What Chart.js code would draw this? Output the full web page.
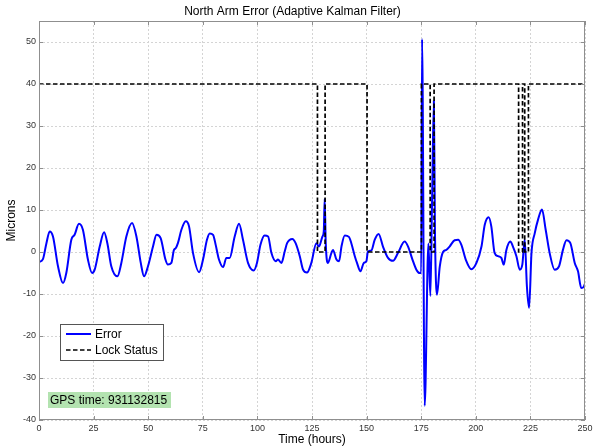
<!DOCTYPE html>
<html>
<head>
<meta charset="utf-8">
<script src="https://cdn.jsdelivr.net/npm/chart.js@4.4.1/dist/chart.umd.min.js"></script>
<style>
  html, body { margin: 0; padding: 0; background: #fff; }
  #wrap { width: 593px; height: 448px; position: relative; }
</style>
</head>
<body>
<div id="wrap"><canvas id="c" width="593" height="448"></canvas></div>
<script>
// ---- data ----
const chartTitle = 'North Arm Error (Adaptive Kalman Filter)';
const xTitle = 'Time (hours)';
const yTitle = 'Microns';
const gpsLabel = 'GPS time: 931132815';

const errHours = [0,1.8,3.4,4.9,6.4,8.7,11,12.5,14.8,16.3,18.3,20.1,22.4,24.3,25.5,27.8,29.8,31.3,33.1,35.9,37.7,40,42.6,44.6,46.6,48.1,49.9,52.2,53.8,55.7,57.9,59,60.6,61.8,62.6,63.6,65.2,67.2,68.7,70.5,73.3,75.1,76.9,78.2,79.7,80.9,82.4,84.3,85.8,87.3,89.6,91.6,93.4,95.7,98.3,99.8,101.4,103.3,104.9,106.4,108.4,109.4,111,112.5,113.6,116,117.5,119.4,120.9,122.7,124.7,127,128.2,129.8,130.4,130.8,131.3,132.3,133.9,134.6,136.2,137.4,138.5,140,141.9,143,144.6,145.6,147.2,148.7,149.9,150.6,152.2,153.7,155.5,157.5,159.8,162.1,164.4,167.4,169,171,172.8,174.3,175.0,175.4,176.6,178.3,179.2,180.0,180.8,181.3,182.2,183.5,185,186.5,188,190.3,191.9,193.4,195.4,198,200.3,202.6,204.1,205.9,207.1,208.6,210.2,211.7,212.8,214,215.8,217,218.6,220.1,221.3,222.4,223.4,224.4,225.5,227,228.5,230.3,232,233.8,236.1,238.1,239.9,241.5,243.3,245.3,246.8,248.3,249.5,250];
const errMicrons = [-2.4,-1.7,2.1,4.9,3.7,-3.4,-7.4,-5,2.9,4.1,6.7,5.3,-1.8,-5,-4.2,1.3,4.7,2.1,-3.4,-5.8,-2.6,3.7,6.9,3.7,-2.6,-5.8,-3.4,1.3,4.1,3.3,-1.8,-3,-2.6,0.5,0.9,2.1,5.3,7.3,6.1,-0.2,-4.8,-1.8,2.9,4.4,4.1,1.7,-1.8,-3.6,-1.4,-1.4,3.7,6.7,2.9,-2.6,-4.4,-2.6,1.7,3.9,3.7,-0.2,-2.2,-1.8,-2.6,0.1,2.1,3.1,2.1,-1,-4.2,-4.9,-2.6,2.1,1.3,3.7,5,12.6,2,-2.6,-0.2,0.5,-1.8,-2.2,1.3,3.9,3.6,2.1,-1,-2.6,-4.6,-2.6,-2.2,0.1,0.4,2.9,4.3,1.3,-1.4,-2.1,-0.2,2.5,1.3,-1.8,-4.2,-5,-5,50.7,-36.6,2,-10.5,13,36,5,-10.2,-3.5,0,0.5,1.3,2.8,2.9,1.7,-1.8,-4.1,-2.6,1.3,6.5,8.3,6.1,-0.2,-1,-1.4,-3,0.5,2.5,1.3,-1,-4.2,-3,3,-8.2,-13.3,-0.2,4.5,7.7,10.1,5.3,-0.2,-4.2,-3.4,0.5,2.8,2.1,-2.6,-4.6,-8.6,-8.2,-7.5];

const lockHours = [0,127.5,127.5,131,131,150.2,150.2,175.1,175.1,179.1,179.1,180.9,180.9,219.6,219.6,221.4,221.4,222.4,222.4,224.1,224.1,250];
const lockLevel = [40,40,0,0,40,40,0,0,40,40,0,0,40,40,0,0,40,40,0,0,40,40];

const xTickValues = [0,25,50,75,100,125,150,175,200,225,250];
const yTickValues = [-40,-30,-20,-10,0,10,20,30,40,50];

const FONT = '"Liberation Sans", Arial, Helvetica, sans-serif';

const toPoints = (xs, ys) => xs.map((x, i) => ({ x: x, y: ys[i] }));

// frame, inward ticks, legend and GPS label
const decorPlugin = {
  id: 'decor',
  afterDatasetsDraw(chart) {
    const { ctx, chartArea: a, scales } = chart;
    ctx.save();
    // box
    ctx.strokeStyle = '#8f8f8f';
    ctx.lineWidth = 1;
    ctx.setLineDash([]);
    ctx.strokeRect(a.left + 0.5, a.top + 0.5, a.right - a.left - 1, a.bottom - a.top - 1);
    // inward ticks on all four sides
    const tl = 4;
    ctx.beginPath();
    scales.x.ticks.forEach(t => {
      const px = Math.round(scales.x.getPixelForValue(t.value)) + 0.5;
      ctx.moveTo(px, a.bottom); ctx.lineTo(px, a.bottom - tl);
      ctx.moveTo(px, a.top); ctx.lineTo(px, a.top + tl);
    });
    scales.y.ticks.forEach(t => {
      const py = Math.round(scales.y.getPixelForValue(t.value)) + 0.5;
      ctx.moveTo(a.left, py); ctx.lineTo(a.left + tl, py);
      ctx.moveTo(a.right, py); ctx.lineTo(a.right - tl, py);
    });
    ctx.stroke();

    // legend box
    const lx = a.left + 21, ly = a.bottom - 96, lw = 103, lh = 36;
    ctx.fillStyle = '#ffffff';
    ctx.fillRect(lx, ly, lw, lh);
    ctx.strokeStyle = '#555555';
    ctx.strokeRect(lx + 0.5, ly + 0.5, lw, lh);
    ctx.font = '12px ' + FONT;
    ctx.textBaseline = 'middle';
    ctx.textAlign = 'left';
    chart.data.datasets.forEach((ds, i) => {
      const rowY = ly + 10 + i * 16;
      ctx.beginPath();
      ctx.strokeStyle = ds.borderColor;
      ctx.lineWidth = ds.borderWidth;
      ctx.setLineDash(ds.borderDash || []);
      ctx.moveTo(lx + 6, rowY);
      ctx.lineTo(lx + 31, rowY);
      ctx.stroke();
      ctx.setLineDash([]);
      ctx.fillStyle = '#000000';
      ctx.fillText(ds.label, lx + 35, rowY + 0.5);
    });

    // GPS time label
    const gx = a.left + 9, gy = a.bottom - 28, gw = 123, gh = 16;
    ctx.fillStyle = '#b3e3b0';
    ctx.fillRect(gx, gy, gw, gh);
    ctx.fillStyle = '#000000';
    ctx.font = '12px ' + FONT;
    ctx.textBaseline = 'middle';
    ctx.fillText(gpsLabel, gx + 2, gy + gh / 2 + 0.5);
    ctx.restore();
  }
};

new Chart(document.getElementById('c'), {
  type: 'line',
  data: {
    datasets: [
      {
        label: 'Error',
        data: toPoints(errHours, errMicrons),
        borderColor: '#0000ff',
        borderWidth: 2,
        pointRadius: 0,
        cubicInterpolationMode: 'monotone',
        fill: false,
        order: 1
      },
      {
        label: 'Lock Status',
        data: toPoints(lockHours, lockLevel),
        borderColor: '#000000',
        borderWidth: 1.7,
        borderDash: [4.5, 2.5],
        pointRadius: 0,
        tension: 0,
        fill: false,
        order: 0
      }
    ]
  },
  options: {
    responsive: false,
    animation: false,
    events: [],
    layout: { padding: { left: 0, right: 8, top: 0, bottom: 0 } },
    plugins: {
      legend: { display: false },
      tooltip: { enabled: false },
      title: {
        display: true,
        text: chartTitle,
        color: '#000000',
        font: { family: FONT, size: 12, weight: 'normal' },
        padding: { top: 4, bottom: 2.6 }
      }
    },
    scales: {
      x: {
        type: 'linear',
        min: 0,
        max: 250,
        afterBuildTicks: s => { s.ticks = xTickValues.map(v => ({ value: v })); },
        afterFit: s => { s.height = 28; s.paddingRight = 2; s.paddingLeft = 2; },
        ticks: {
          color: '#333333',
          font: { family: FONT, size: 9 },
          padding: 3,
          maxRotation: 0,
          autoSkip: false
        },
        grid: { color: '#d4d4d4', lineWidth: 1, drawTicks: false },
        border: { display: false, dash: [2, 2] },
        title: {
          display: true,
          text: xTitle,
          color: '#000000',
          font: { family: FONT, size: 12 },
          padding: { top: 0, bottom: 1 }
        }
      },
      y: {
        type: 'linear',
        min: -40,
        max: 55,
        afterBuildTicks: s => { s.ticks = yTickValues.map(v => ({ value: v })); },
        afterFit: s => { s.width = 39; },
        ticks: {
          color: '#333333',
          font: { family: FONT, size: 9 },
          padding: 3,
          autoSkip: false
        },
        grid: { color: '#d4d4d4', lineWidth: 1, drawTicks: false },
        border: { display: false, dash: [2, 2] },
        title: {
          display: true,
          text: yTitle,
          color: '#000000',
          font: { family: FONT, size: 12 },
          padding: { top: 4, bottom: 0 }
        }
      }
    }
  },
  plugins: [decorPlugin]
});
</script>
</body>
</html>
